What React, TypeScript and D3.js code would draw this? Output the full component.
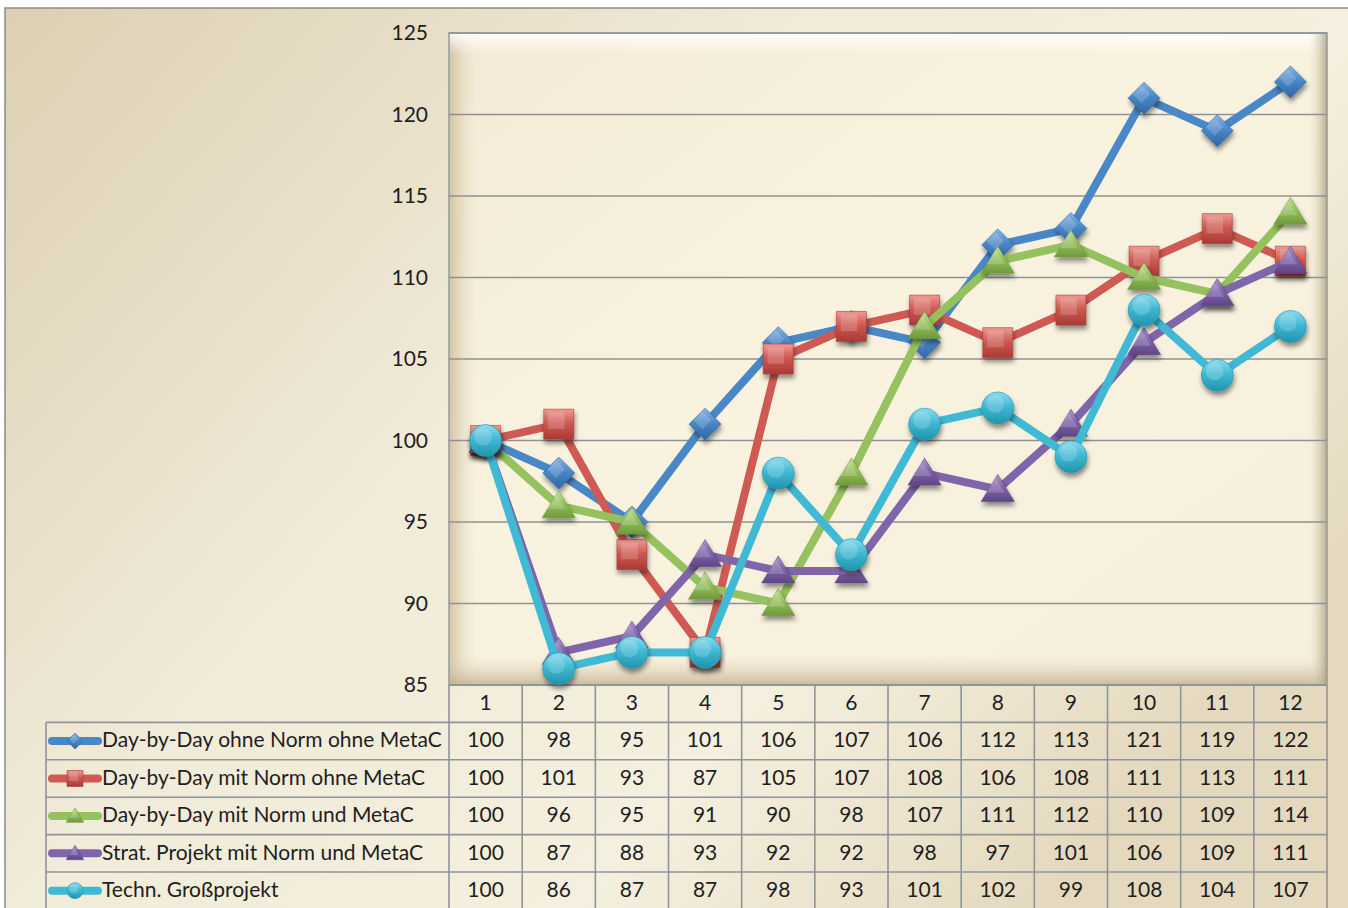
import React from "react";
import * as d3 from "d3";

const categories = ["1", "2", "3", "4", "5", "6", "7", "8", "9", "10", "11", "12"];
const yTicks = [85, 90, 95, 100, 105, 110, 115, 120, 125];

const seriesNames = [
  "Day-by-Day ohne Norm ohne MetaC",
  "Day-by-Day mit Norm ohne MetaC",
  "Day-by-Day mit Norm und MetaC",
  "Strat. Projekt mit Norm und MetaC",
  "Techn. Großprojekt",
];
const dayOhneOhne = [100, 98, 95, 101, 106, 107, 106, 112, 113, 121, 119, 122];
const dayMitOhne = [100, 101, 93, 87, 105, 107, 108, 106, 108, 111, 113, 111];
const dayMitUnd = [100, 96, 95, 91, 90, 98, 107, 111, 112, 110, 109, 114];
const stratProjekt = [100, 87, 88, 93, 92, 92, 98, 97, 101, 106, 109, 111];
const technGross = [100, 86, 87, 87, 98, 93, 101, 102, 99, 108, 104, 107];

type Marker = "diamond" | "square" | "triangle" | "circle";
const seriesValues = [dayOhneOhne, dayMitOhne, dayMitUnd, stratProjekt, technGross];
const seriesColors = ["#4a87c7", "#cf5a53", "#95c15e", "#8165aa", "#40b9d4"];
const seriesDark = ["#2f67a3", "#a83a34", "#6f9a3c", "#5f4587", "#2293ad"];
const seriesLight = ["#8ab6e6", "#ee9a93", "#c3e29a", "#ae98cf", "#8fdcee"];
const seriesMarkers: Marker[] = ["diamond", "square", "triangle", "triangle", "circle"];

const W = 1348;
const H = 908;
const plotL = 449;
const plotR = 1327;
const plotT = 33;
const plotB = 685;
const rowH = 37.4;
const tableL = 46;

const x = d3.scaleBand<string>().domain(categories).range([plotL, plotR]);
const y = d3.scaleLinear().domain([85, 125]).range([plotB, plotT]);
const font = "Lato, 'Open Sans', sans-serif";
const fs = 21;

function markerPath(kind: Marker, s: number): string {
  const h = s / 2;
  if (kind === "diamond") return `M0,${-h}L${h},0L0,${h}L${-h},0Z`;
  if (kind === "square") return `M${-h},${-h}H${h}V${h}H${-h}Z`;
  if (kind === "triangle") return `M0,${-h}L${h * 1.1},${h * 0.8}H${-h * 1.1}Z`;
  return d3.symbol(d3.symbolCircle, (Math.PI * s * s) / 4)() || "";
}

function MarkerShape({ kind, i, s }: { kind: Marker; i: number; s: number }) {
  return (
    <g>
      <path d={markerPath(kind, s)} fill={`url(#mk${i})`} stroke={seriesDark[i]} strokeWidth={0.6} />
      <path d={markerPath(kind, s * 0.55)} transform={`translate(${-s * 0.08},${-s * 0.12})`} fill="#ffffff" opacity={0.18} />
    </g>
  );
}

export default function App() {
  const line = d3
    .line<number>()
    .x((_, j) => (x(categories[j]) as number) + x.bandwidth() / 2)
    .y((v) => y(v));

  const colX = (j: number) => (x(categories[j]) as number) + x.bandwidth() / 2;
  const rowY = (r: number) => plotB + r * rowH;
  const textY = (r: number) => rowY(r) + rowH / 2 - 1;

  return (
    <svg width={W} height={H} style={{ position: "absolute", left: 0, top: 0 }}>
      <defs>
        <linearGradient id="bgGrad" x1="0" y1="0" x2="1" y2="0.6">
          <stop offset="0" stopColor="#dccfb3" />
          <stop offset="0.45" stopColor="#f1ebd9" />
          <stop offset="0.75" stopColor="#f4efde" />
          <stop offset="1" stopColor="#e4d9bf" />
        </linearGradient>
        <linearGradient id="plotGrad" x1="0" y1="0" x2="1" y2="1">
          <stop offset="0" stopColor="#f3ead6" />
          <stop offset="0.4" stopColor="#f8f2df" />
          <stop offset="1" stopColor="#f6efdc" />
        </linearGradient>
        <linearGradient id="bevelL" x1="0" y1="0" x2="1" y2="0">
          <stop offset="0" stopColor="#c9b894" stopOpacity="0.8" />
          <stop offset="1" stopColor="#e9dfc6" stopOpacity="0" />
        </linearGradient>
        <linearGradient id="bevelT" x1="0" y1="0" x2="0" y2="1">
          <stop offset="0" stopColor="#ffffff" stopOpacity="0.9" />
          <stop offset="1" stopColor="#ffffff" stopOpacity="0" />
        </linearGradient>
        <linearGradient id="bevelB" x1="0" y1="1" x2="0" y2="0">
          <stop offset="0" stopColor="#b8a888" stopOpacity="0.75" />
          <stop offset="1" stopColor="#e6dcc4" stopOpacity="0" />
        </linearGradient>
        <linearGradient id="bevelR" x1="1" y1="0" x2="0" y2="0">
          <stop offset="0" stopColor="#a89a7e" stopOpacity="0.8" />
          <stop offset="1" stopColor="#e6dcc4" stopOpacity="0" />
        </linearGradient>
        {seriesColors.map((c, i) => (
          <linearGradient key={i} id={`mk${i}`} x1="0" y1="0" x2="0" y2="1">
            <stop offset="0" stopColor={seriesLight[i]} />
            <stop offset="0.45" stopColor={c} />
            <stop offset="1" stopColor={seriesDark[i]} />
          </linearGradient>
        ))}
        <filter id="shadow" x="-50%" y="-50%" width="200%" height="200%">
          <feGaussianBlur in="SourceAlpha" stdDeviation="2.5" />
          <feOffset dx="1" dy="4" result="b" />
          <feComponentTransfer>
            <feFuncA type="linear" slope="0.45" />
          </feComponentTransfer>
          <feMerge>
            <feMergeNode />
            <feMergeNode in="SourceGraphic" />
          </feMerge>
        </filter>
      </defs>

      {/* chart area */}
      <rect x={5} y={8} width={W} height={H} fill="url(#bgGrad)" stroke="#8a8a88" strokeWidth={1.5} />

      {/* plot area with bevel */}
      <rect x={plotL} y={plotT} width={plotR - plotL} height={plotB - plotT} fill="url(#plotGrad)" />
      <rect x={plotL} y={plotT} width={28} height={plotB - plotT} fill="url(#bevelL)" />
      <rect x={plotL} y={plotT} width={plotR - plotL} height={22} fill="url(#bevelT)" />
      <rect x={plotL} y={plotB - 30} width={plotR - plotL} height={30} fill="url(#bevelB)" />
      <rect x={plotR - 18} y={plotT} width={18} height={plotB - plotT} fill="url(#bevelR)" />
      <rect x={plotL} y={plotT} width={plotR - plotL} height={plotB - plotT} fill="none" stroke="#969a9c" strokeWidth={1.5} />

      {/* gridlines */}
      {yTicks.map((t) => (
        <line key={t} x1={plotL} x2={plotR} y1={y(t)} y2={y(t)} stroke="#8e9294" strokeWidth={1.6} />
      ))}

      {/* y axis labels */}
      {yTicks.map((t) => (
        <text key={t} x={428} y={y(t)} dy="0.35em" textAnchor="end" fontFamily={font} fontSize={fs} fill="#1e1e1e">
          {t}
        </text>
      ))}

      {/* data table */}
      <g stroke="#8f9498" strokeWidth={1.6}>
        {d3.range(0, 6).map((r) => (
          <line key={r} x1={r === 0 ? plotL : tableL} x2={plotR} y1={rowY(r)} y2={rowY(r)} />
        ))}
        {d3.range(0, 13).map((j) => (
          <line key={j} x1={plotL + j * x.bandwidth()} x2={plotL + j * x.bandwidth()} y1={plotB} y2={H} />
        ))}
        <line x1={tableL} x2={tableL} y1={rowY(1)} y2={H} />
      </g>
      {categories.map((c, j) => (
        <text key={c} x={colX(j)} y={textY(0)} dy="0.35em" textAnchor="middle" fontFamily={font} fontSize={fs} fill="#1e1e1e">
          {c}
        </text>
      ))}
      {seriesValues.map((vals, i) => (
        <g key={i}>
          {vals.map((v, j) => (
            <text key={j} x={colX(j)} y={textY(i + 1)} dy="0.35em" textAnchor="middle" fontFamily={font} fontSize={fs} fill="#1e1e1e">
              {v}
            </text>
          ))}
          <line x1={52} x2={98} y1={rowY(i + 1) + rowH / 2} y2={rowY(i + 1) + rowH / 2} stroke={seriesColors[i]} strokeWidth={8} strokeLinecap="round" />
          <g transform={`translate(75,${rowY(i + 1) + rowH / 2})`}>
            <MarkerShape kind={seriesMarkers[i]} i={i} s={16} />
          </g>
          <text x={102} y={textY(i + 1)} dy="0.35em" fontFamily={font} fontSize={fs} fill="#1e1e1e">
            {seriesNames[i]}
          </text>
        </g>
      ))}

      {/* series */}
      {seriesValues.map((vals, i) => (
        <g key={i}>
          <path d={line(vals) || ""} fill="none" stroke={seriesColors[i]} strokeWidth={8} strokeLinejoin="round" />
          {vals.map((v, j) => (
            <g key={j} transform={`translate(${colX(j)},${y(v)})`} filter="url(#shadow)">
              <MarkerShape kind={seriesMarkers[i]} i={i} s={seriesMarkers[i] === "circle" ? 32 : seriesMarkers[i] === "diamond" ? 32 : 30} />
            </g>
          ))}
        </g>
      ))}
    </svg>
  );
}
